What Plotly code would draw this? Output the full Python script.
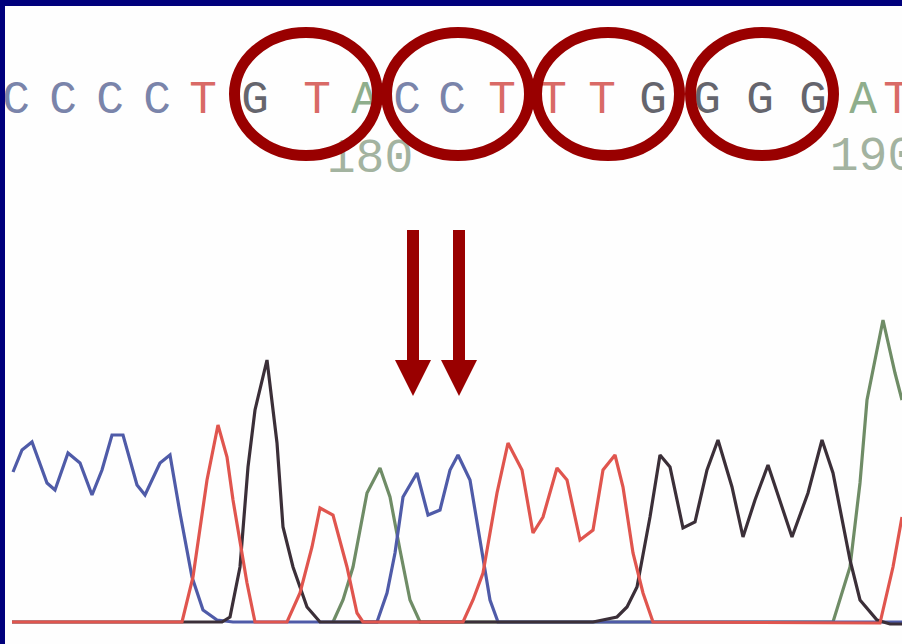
import plotly.graph_objects as go

BASE = 622  # baseline pixel row used to convert read-off heights

# ---- chromatogram traces (scan position, signal height) ----
blue_x = [13, 22, 32, 40, 47, 55, 68, 80, 92, 102, 112, 123, 137, 145, 160, 170, 180, 192, 203, 217, 233,
          377, 387, 395, 403, 417, 428, 440, 450, 458, 470, 480, 490, 498, 902]
blue_y = [150, 172, 180, 159, 139, 132, 169, 159, 127, 152, 187, 187, 137, 127, 159, 167, 109, 45, 12, 2, 0,
          0, 29, 69, 125, 149, 107, 112, 152, 167, 142, 82, 22, 0, 0]

red_x = [12, 182, 193, 207, 218, 227, 233, 247, 255, 287, 300, 312, 320, 333, 347, 357, 363,
         463, 473, 483, 497, 508, 522, 533, 543, 557, 567, 580, 593, 603, 615, 623, 633, 643, 653,
         880, 893, 902]
red_y = [0, 0, 45, 142, 197, 165, 122, 39, 0, 0, 29, 75, 114, 107, 55, 9, 0,
         0, 22, 49, 129, 179, 152, 89, 105, 154, 142, 82, 92, 152, 167, 135, 69, 29, 0,
         -1, 55, 105]

black_x = [12, 222, 230, 240, 248, 255, 267, 277, 283, 293, 307, 320, 593, 617, 627, 637, 650, 660, 670, 683,
           695, 707, 718, 732, 743, 755, 768, 780, 792, 808, 822, 833, 850, 860, 877, 890, 902]
black_y = [0, 0, 5, 55, 155, 212, 262, 179, 95, 55, 15, 0, 0, 5, 15, 35, 105, 167, 155, 94,
           100, 152, 182, 135, 85, 122, 157, 122, 85, 129, 182, 149, 62, 22, 2, -2, -2]

green_x = [333, 343, 353, 367, 380, 390, 400, 410, 420, 833, 850, 860, 867, 883, 895, 902]
green_y = [0, 22, 55, 129, 154, 125, 72, 22, 0, 0, 55, 139, 222, 302, 249, 222]

# ---- base calls along the top ----
base_calls = ["C", "C", "C", "C", "T", "G", "T", "A", "C", "C", "T", "T", "T", "G", "G", "G", "G", "A", "T"]
base_pos = [16, 63, 110, 157, 203, 255, 317, 365, 407, 452, 502, 553, 602, 653, 707, 760, 813, 863, 897]
pos_labels = ["180", "190"]
pos_label_x = [370, 873]

base_colors = {"C": "#7a84aa", "T": "#d96a66", "G": "#65656d", "A": "#8fae8c"}

fig = go.Figure()

traces = [
    (green_x, green_y, "#6f8c66"),
    (blue_x, blue_y, "#4f5ba8"),
    (black_x, black_y, "#3b2f38"),
    (red_x, red_y, "#e0554e"),
]
for xs, ys, col in traces:
    fig.add_trace(go.Scatter(x=xs, y=ys, mode="lines",
                             line=dict(color=col, width=3.2),
                             hoverinfo="skip"))

fig.add_trace(go.Scatter(
    x=base_pos, y=[BASE - 101] * len(base_calls), mode="text", text=base_calls,
    textfont=dict(family="Liberation Mono", size=46, color=[base_colors[b] for b in base_calls]),
    textposition="middle center", hoverinfo="skip"))

fig.add_trace(go.Scatter(
    x=pos_label_x, y=[BASE - 160, BASE - 158], mode="text", text=pos_labels,
    textfont=dict(family="Liberation Mono", size=48, color="#a3b3a0"),
    textposition="middle center", hoverinfo="skip"))

DARK_RED = "#990000"
shapes = []
# ellipses around the codons
for cx in [306, 458, 608, 762]:
    shapes.append(dict(type="circle", xref="x", yref="y",
                       x0=cx - 71.5, x1=cx + 71.5, y0=BASE - 155.5, y1=BASE - 32.5,
                       line=dict(color=DARK_RED, width=11)))
# two arrows
for ax in [413, 459]:
    shapes.append(dict(type="rect", xref="x", yref="y",
                       x0=ax - 6, x1=ax + 6, y0=BASE - 362, y1=BASE - 230,
                       line=dict(width=0), fillcolor=DARK_RED))
    shapes.append(dict(type="path", xref="x", yref="y",
                       path=f"M {ax-18},{BASE-360} L {ax+18},{BASE-360} L {ax},{BASE-396} Z",
                       line=dict(width=0), fillcolor=DARK_RED))

fig.update_layout(
    width=902, height=644,
    margin=dict(l=5, r=0, t=6, b=0),
    paper_bgcolor="#00007c", plot_bgcolor="#fefefe",
    showlegend=False,
    shapes=shapes,
    xaxis=dict(range=[5, 902], visible=False, fixedrange=True),
    yaxis=dict(range=[BASE - 644, BASE - 6], visible=False, fixedrange=True),
)

fig.write_html("out.html", config={"displayModeBar": False},
               post_script="document.body.style.margin='0px';document.body.style.overflow='hidden';")
